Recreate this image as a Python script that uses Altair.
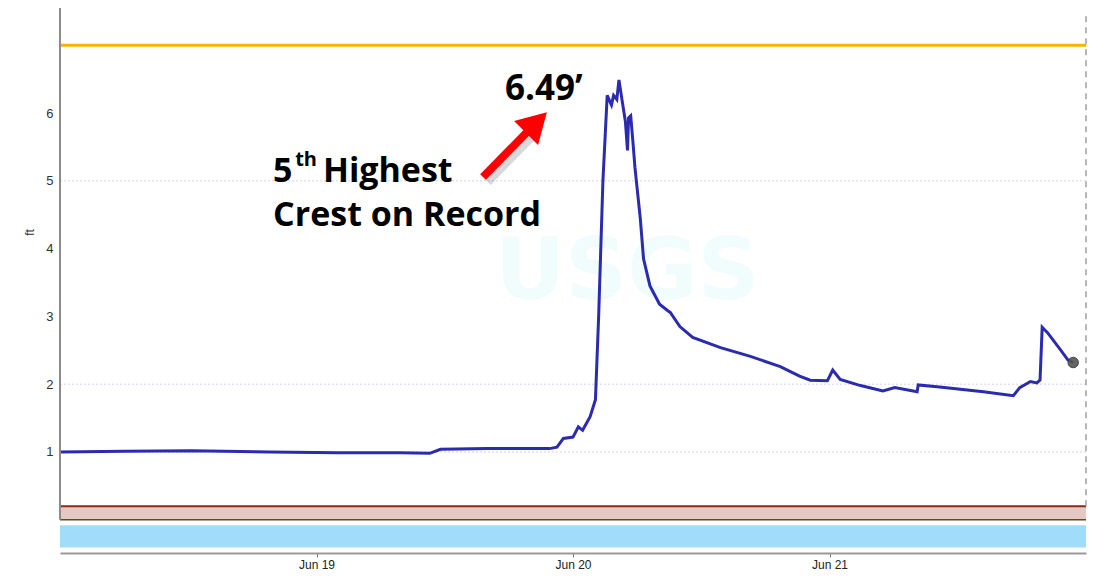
import altair as alt
import pandas as pd

# ---- data ----
times = [
    "2023-06-18T00:00", "2023-06-18T06:00", "2023-06-18T12:21", "2023-06-18T19:36",
    "2023-06-19T02:00", "2023-06-19T07:48", "2023-06-19T10:36", "2023-06-19T11:36",
    "2023-06-19T16:00", "2023-06-19T21:48", "2023-06-19T22:30", "2023-06-19T23:06",
    "2023-06-20T00:00", "2023-06-20T00:30", "2023-06-20T00:54", "2023-06-20T01:36",
    "2023-06-20T02:06", "2023-06-20T02:24", "2023-06-20T02:48", "2023-06-20T03:12",
    "2023-06-20T03:36", "2023-06-20T03:48", "2023-06-20T04:06", "2023-06-20T04:18",
    "2023-06-20T04:36", "2023-06-20T04:54", "2023-06-20T05:06", "2023-06-20T05:12",
    "2023-06-20T05:24", "2023-06-20T05:36", "2023-06-20T05:48", "2023-06-20T06:18",
    "2023-06-20T06:36", "2023-06-20T07:12", "2023-06-20T08:06", "2023-06-20T08:54",
    "2023-06-20T09:06", "2023-06-20T10:00", "2023-06-20T11:12", "2023-06-20T13:48",
    "2023-06-20T16:36", "2023-06-20T19:24", "2023-06-20T21:12", "2023-06-20T22:12",
    "2023-06-20T23:48", "2023-06-21T00:18", "2023-06-21T01:00", "2023-06-21T02:54",
    "2023-06-21T05:00", "2023-06-21T06:06", "2023-06-21T08:12", "2023-06-21T08:18",
    "2023-06-21T10:18", "2023-06-21T14:24", "2023-06-21T17:12", "2023-06-21T17:48",
    "2023-06-21T18:48", "2023-06-21T19:24", "2023-06-21T19:42", "2023-06-21T19:54",
    "2023-06-21T20:24", "2023-06-21T21:36", "2023-06-21T22:18", "2023-06-21T22:48",
]
stage_ft = [
    1.00, 1.01, 1.02, 1.00,
    0.99, 0.99, 0.98, 1.04,
    1.05, 1.05, 1.07, 1.20,
    1.22, 1.37, 1.32, 1.52,
    1.77, 3.00, 5.00, 6.26,
    6.12, 6.26, 6.20, 6.49,
    6.18, 5.88, 5.45, 5.93,
    5.96, 5.59, 5.19, 4.44,
    3.85, 3.45, 3.18, 3.08,
    3.06, 2.85, 2.69, 2.54,
    2.41, 2.26, 2.12, 2.06,
    2.05, 2.21, 2.07, 1.98,
    1.90, 1.95, 1.89, 1.99,
    1.96, 1.89, 1.83, 1.95,
    2.04, 2.02, 2.06, 2.84,
    2.76, 2.51, 2.36, 2.32,
]
y_ticks = [1, 2, 3, 4, 5, 6]
grid_levels = [1, 2, 5]
x_tick_days = [19, 20, 21]
top_threshold_ft = 7.0
brown_band = [0.0, 0.2]
blue_band = [-0.08, -0.41]

# annotation texts (positions in data units)
ann_text = ["6.49\u2019", "5", "th", "Highest", "Crest on Record"]
ann_time = ["2023-06-19T17:38", "2023-06-18T19:56", "2023-06-18T22:00",
            "2023-06-19T00:36", "2023-06-18T19:56"]
ann_val = [6.19, 4.99, 5.22, 4.99, 4.33]
ann_size = [35, 34, 20, 34, 34]

W, H = 1026, 545
Y_DOM = [-0.49, 7.55]
d0 = alt.DateTime(year=2023, month=6, date=18)
d1 = alt.DateTime(year=2023, month=6, date=22)

df = pd.DataFrame({"time": times, "ft": stage_ft})
last = df.tail(1)
ann = pd.DataFrame({"time": ann_time, "ft": ann_val, "text": ann_text, "size": ann_size})

xs = alt.Scale(domain=[d0, d1], nice=False)
ys = alt.Scale(domain=Y_DOM, nice=False, zero=False)

x_axis = alt.Axis(
    values=[alt.DateTime(year=2023, month=6, date=d) for d in x_tick_days],
    format="%b %d", labelFont="Liberation Sans", labelFontSize=12,
    labelColor="#222222", domainColor="#9a9a9a", domainWidth=2,
    tickColor="#777777", tickSize=4, labelPadding=2, grid=False, title=None,
)
y_axis = alt.Axis(
    values=y_ticks, format="d", labelFont="Liberation Sans", labelFontSize=13,
    labelColor="#333333", ticks=False, domain=False, grid=False,
    labelPadding=7, title="ft", titleFont="Liberation Sans", titleFontSize=12,
    titleFontWeight="normal", titleColor="#333333", titleX=-31, titleY=224,
    titleAngle=-90, titleBaseline="middle", titleAlign="center",
)

base = alt.Chart(df)

line = base.mark_line(color="#2b2bb0", strokeWidth=3).encode(
    x=alt.X("time:T", scale=xs, axis=x_axis),
    y=alt.Y("ft:Q", scale=ys, axis=y_axis),
)

grid = alt.Chart(pd.DataFrame({"g": grid_levels})).mark_rule(
    color="#d2d2f2", strokeDash=[2, 2], strokeWidth=1
).encode(y=alt.Y("g:Q", scale=ys))

brown = alt.Chart(pd.DataFrame({"lo": [brown_band[0]], "hi": [brown_band[1]]})).mark_rect(
    color="#e4c8c4"
).encode(
    x=alt.datum(d0, scale=xs), x2=alt.datum(d1),
    y=alt.Y("lo:Q", scale=ys), y2="hi:Q",
)
brown_top = alt.Chart(pd.DataFrame({"v": [brown_band[1]]})).mark_rule(
    color="#8b2a12", strokeWidth=2
).encode(y=alt.Y("v:Q", scale=ys))
brown_bot = alt.Chart(pd.DataFrame({"v": [brown_band[0]]})).mark_rule(
    color="#5e4a2c", strokeWidth=1.5
).encode(y=alt.Y("v:Q", scale=ys))

blue = alt.Chart(pd.DataFrame({"lo": [blue_band[0]], "hi": [blue_band[1]]})).mark_rect(
    color="#a2dcfb"
).encode(
    x=alt.datum(d0, scale=xs), x2=alt.datum(d1),
    y=alt.Y("lo:Q", scale=ys), y2="hi:Q",
)

top_line = alt.Chart(pd.DataFrame({"v": [top_threshold_ft]})).mark_rule(
    color="#f5b400", strokeWidth=3
).encode(y=alt.Y("v:Q", scale=ys))

left_line = alt.Chart(pd.DataFrame({"lo": [0.0], "hi": [Y_DOM[1]]})).mark_rule(
    color="#8c8c8c", strokeWidth=2
).encode(x=alt.datum(d0, scale=xs), y=alt.Y("lo:Q", scale=ys), y2="hi:Q")

right_line = alt.Chart(pd.DataFrame({"lo": [0.2], "hi": [Y_DOM[1] - 0.06]})).mark_rule(
    color="#a0a0a0", strokeWidth=1.5, strokeDash=[6, 5]
).encode(x=alt.datum(d1, scale=xs), y=alt.Y("lo:Q", scale=ys), y2="hi:Q")

watermark = alt.Chart(pd.DataFrame({"time": ["2023-06-20T05:06"], "ft": [3.25], "t": ["USGS"]})).mark_text(
    font="DejaVu Sans", fontWeight="bold", fontSize=86, color="#f1fcfc", align="center",
    baseline="alphabetic"
).encode(x=alt.X("time:T", scale=xs), y=alt.Y("ft:Q", scale=ys), text="t:N")

end_pt = alt.Chart(last).mark_point(
    shape="circle", filled=True, size=110, color="#555555", opacity=0.9,
    stroke="#333333", strokeWidth=1
).encode(x=alt.X("time:T", scale=xs), y=alt.Y("ft:Q", scale=ys))

# red arrow (annotation) with soft shadow
arrow_df = pd.DataFrame({
    "t0": ["2023-06-19T15:35"], "v0": [5.056],
    "t1": ["2023-06-19T19:59"], "v1": [5.764],
})
shadow = alt.Chart(pd.DataFrame({
    "t0": ["2023-06-19T15:58"], "v0": [4.99],
    "t1": ["2023-06-19T20:22"], "v1": [5.70],
})).mark_rule(color="#000000", opacity=0.15, strokeWidth=10).encode(
    x=alt.X("t0:T", scale=xs), x2="t1:T", y=alt.Y("v0:Q", scale=ys), y2="v1:Q"
)
shaft = alt.Chart(arrow_df).mark_rule(color="#ff0000", strokeWidth=8).encode(
    x=alt.X("t0:T", scale=xs), x2="t1:T", y=alt.Y("v0:Q", scale=ys), y2="v1:Q"
)
head = alt.Chart(pd.DataFrame({"time": ["2023-06-19T20:35"], "ft": [5.86]})).mark_point(
    shape="triangle-up", filled=True, size=1150, color="#ff0000", opacity=1, angle=45
).encode(x=alt.X("time:T", scale=xs), y=alt.Y("ft:Q", scale=ys))

labels = alt.Chart(ann).mark_text(
    font="Open Sans", fontWeight="bold", color="#000000", align="left", baseline="alphabetic"
).encode(
    x=alt.X("time:T", scale=xs), y=alt.Y("ft:Q", scale=ys), text="text:N",
    size=alt.Size("size:Q", scale=None, legend=None),
)

chart = alt.layer(
    grid, watermark, brown, brown_top, brown_bot, blue, top_line, right_line,
    line, end_pt, left_line, shadow, shaft, head, labels,
).properties(
    width=W, height=H,
    padding={"left": 52, "top": 0, "right": 10, "bottom": 20},
    autosize=alt.AutoSizeParams(type="none"),
    background="white",
).configure_view(stroke=None)

chart.save("out.html", embed_options={"renderer": "svg", "actions": False})
